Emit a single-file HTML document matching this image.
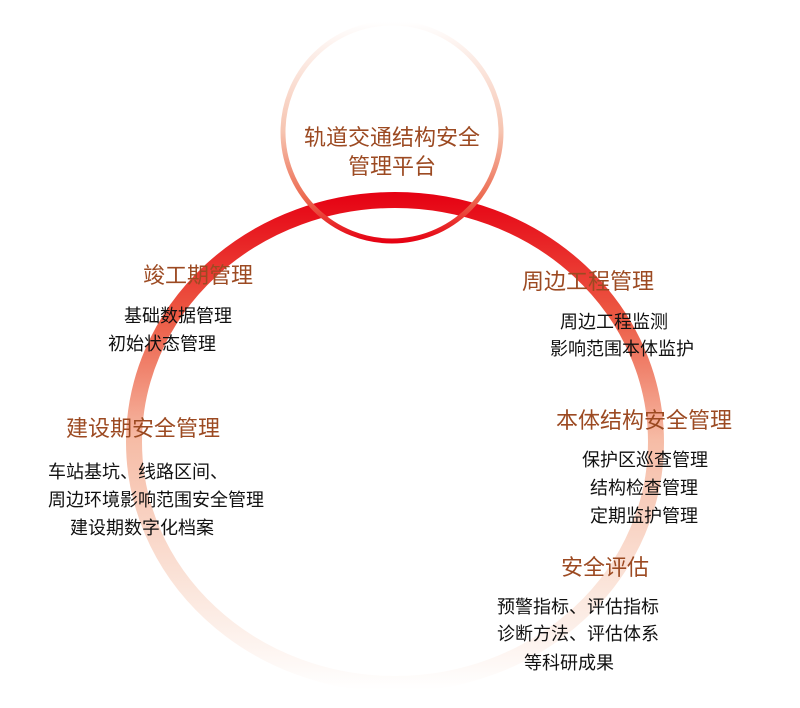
<!DOCTYPE html>
<html><head><meta charset="utf-8"><style>
body{margin:0;width:800px;height:708px;background:#fff;position:relative;overflow:hidden;font-family:"Liberation Sans","Noto Sans CJK SC",sans-serif}
.t{position:absolute;color:#9c4a22;font-size:22px;white-space:nowrap;line-height:24px}
.b{position:absolute;color:#111;font-size:18px;white-space:nowrap;line-height:20px}
</style></head><body>
<svg width="800" height="708" style="position:absolute;left:0;top:0">
<defs>
<linearGradient id="g1" x1="0" y1="192" x2="0" y2="690" gradientUnits="userSpaceOnUse">
<stop offset="0" stop-color="#e60012"/>
<stop offset="0.25" stop-color="#ec5a44"/>
<stop offset="0.5" stop-color="#f6bca6"/>
<stop offset="0.8" stop-color="#fbe6dc"/>
<stop offset="1" stop-color="#ffffff"/>
</linearGradient>
<linearGradient id="g2" x1="0" y1="22" x2="0" y2="242" gradientUnits="userSpaceOnUse">
<stop offset="0" stop-color="#ffffff"/>
<stop offset="0.5" stop-color="#f6c4b0"/>
<stop offset="0.8" stop-color="#ec6a50"/>
<stop offset="1" stop-color="#e60012"/>
</linearGradient>
</defs>
<ellipse cx="395" cy="442" rx="261" ry="242" fill="none" stroke="url(#g1)" stroke-width="16"/>
<circle cx="392" cy="132" r="109" fill="none" stroke="url(#g2)" stroke-width="5"/>
</svg>
<div class="t" style="left:272px;top:123px;width:240px;text-align:center;line-height:29px">轨道交通结构安全<br>管理平台</div>
<div class="t" style="left:143px;top:264px">竣工期管理</div>
<div class="b" style="left:124px;top:306px">基础数据管理</div>
<div class="b" style="left:108px;top:334px">初始状态管理</div>
<div class="t" style="left:522px;top:270px">周边工程管理</div>
<div class="b" style="left:560px;top:312px">周边工程监测</div>
<div class="b" style="left:550px;top:339px">影响范围本体监护</div>
<div class="t" style="left:556px;top:409px">本体结构安全管理</div>
<div class="b" style="left:582px;top:450px">保护区巡查管理</div>
<div class="b" style="left:590px;top:478px">结构检查管理</div>
<div class="b" style="left:590px;top:506px">定期监护管理</div>
<div class="t" style="left:66px;top:417px">建设期安全管理</div>
<div class="b" style="left:48px;top:462px">车站基坑、线路区间、</div>
<div class="b" style="left:48px;top:490px">周边环境影响范围安全管理</div>
<div class="b" style="left:70px;top:518px">建设期数字化档案</div>
<div class="t" style="left:561px;top:556px">安全评估</div>
<div class="b" style="left:497px;top:597px">预警指标、评估指标</div>
<div class="b" style="left:497px;top:624px">诊断方法、评估体系</div>
<div class="b" style="left:524px;top:653px">等科研成果</div>
</body></html>
